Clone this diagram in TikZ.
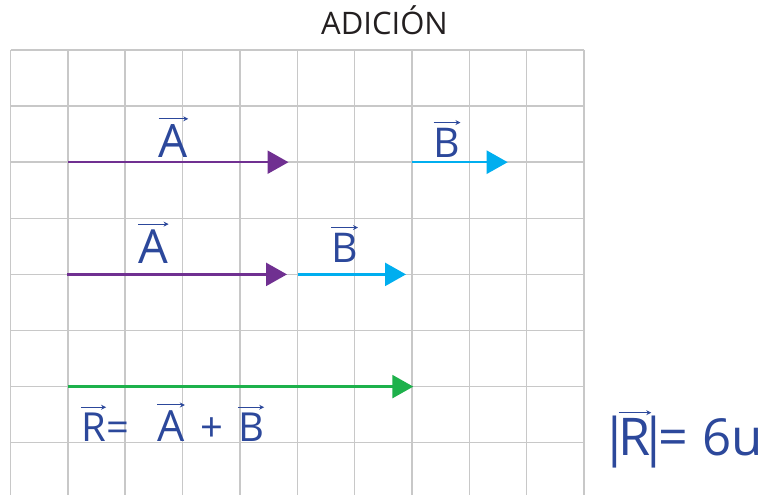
\documentclass[tikz,border=0pt]{standalone}
\usepackage{fontspec}
\setmainfont{Open Sans}
\usetikzlibrary{arrows.meta}
\definecolor{gridc}{RGB}{200,200,200}
\definecolor{vpurple}{RGB}{112,48,145}
\definecolor{vcyan}{RGB}{0,174,239}
\definecolor{vgreen}{RGB}{29,177,75}
\definecolor{lblue}{RGB}{44,72,155}
\definecolor{titlec}{RGB}{35,31,32}
\begin{document}
\begin{tikzpicture}[x=1pt,y=-1pt,
  gridline/.style={draw=gridc,line width=1.5pt},
  vecline/.style={line width=2.5pt,-{Triangle[length=21pt,width=23pt]}},
  lbl/.style={text=lblue,inner sep=0pt,anchor=base},
  overvec/.style={draw=lblue,line width=1pt,-{Stealth[length=5pt,width=5pt]}}]
\path[use as bounding box] (0,0) rectangle (766,495);
% grid
\foreach \i in {0,...,10}
  \draw[gridline] ({10.5+57.35*\i},50) -- ({10.5+57.35*\i},495);
\foreach \j in {0,...,7}
  \draw[gridline] (10.5,{50+56.1*\j}) -- (584,{50+56.1*\j});
% title
\node[inner sep=0pt,anchor=base,text=titlec,font=\fontsize{31}{31}\selectfont] (title) at (384.5,35) {ADICIÓN};
% vectors
\coordinate (a1s) at (68,162.2);   \coordinate (a1e) at (288.5,162.2);
\coordinate (b1s) at (411.7,162.2); \coordinate (b1e) at (507.7,162.2);
\coordinate (a2s) at (67,274.4);   \coordinate (a2e) at (287,274.4);
\coordinate (b2s) at (298.3,274.4); \coordinate (b2e) at (406,274.4);
\coordinate (rs) at (68,386.6);    \coordinate (re) at (413.3,386.6);
\draw[vecline,vpurple] (a1s) -- (a1e);
\draw[vecline,vcyan] (b1s) -- (b1e);
\draw[vecline,vpurple] (a2s) -- (a2e);
\draw[vecline,vcyan] (b2s) -- (b2e);
\draw[vecline,vgreen] (rs) -- (re);
% labels row 1
\node[lbl,font=\fontsize{46}{46}\selectfont] (la1) at (173.5,157) {A};
\node[lbl,font=\fontsize{41}{41}\selectfont] (lb1) at (447,157) {B};
% labels row 2
\node[lbl,font=\fontsize{47}{47}\selectfont] (la2) at (153.5,263) {A};
\node[lbl,font=\fontsize{41}{41}\selectfont] (lb2) at (344.5,262) {B};
% row 3 equation
\node[lbl,font=\fontsize{40}{40}\selectfont] (lr3) at (93.5,441) {R};
\node[lbl,font=\fontsize{40}{40}\selectfont] (eq3) at (117.5,441) {=};
\node[lbl,font=\fontsize{43}{43}\selectfont] (la3) at (171,441) {A};
\node[lbl,font=\fontsize{40}{40}\selectfont] (pl3) at (212,441) {+};
\node[lbl,font=\fontsize{40}{40}\selectfont] (lb3) at (251,441) {B};
% magnitude
\node[lbl,font=\fontsize{52}{52}\selectfont] (bar1) at (615,455) {|};
\node[lbl,font=\fontsize{52}{52}\selectfont] (rm) at (635,455) {R};
\node[lbl,font=\fontsize{52}{52}\selectfont] (bar2) at (654,455) {|};
\node[lbl,font=\fontsize{52}{52}\selectfont] (eqm) at (673.5,455) {=};
\node[lbl,font=\fontsize{51}{51}\selectfont,anchor=base west] (six) at (702,455) {6u};
% arrows over letters
\foreach \n in {la1,lb1,la2,lb2,lr3,la3,lb3,rm}
  \draw[overvec] ([yshift=5pt]\n.north west) -- ([yshift=5pt]\n.north east);
\end{tikzpicture}
\end{document}
